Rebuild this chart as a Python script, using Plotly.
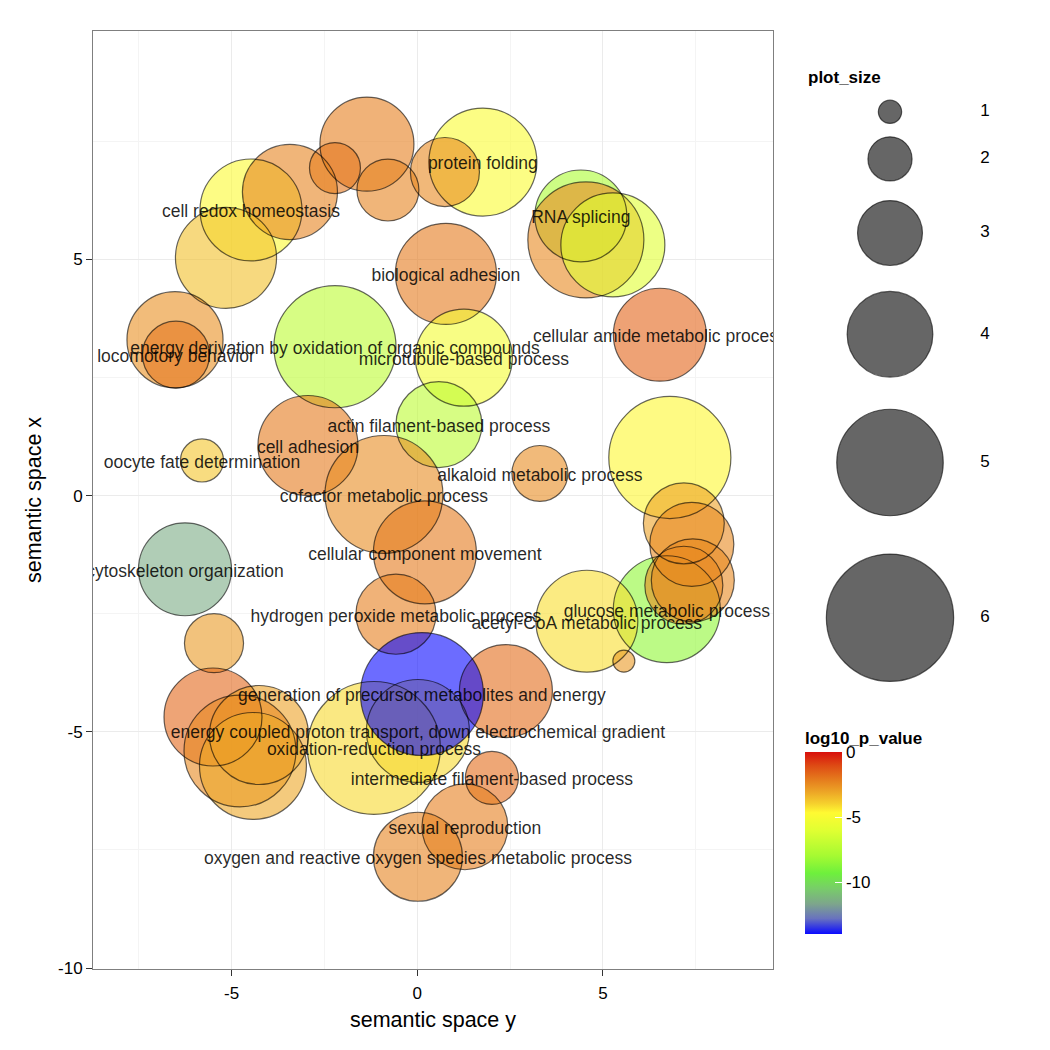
import plotly.graph_objects as go

# ---------------- data ----------------
semantic_y = [-1.354, -2.215, -0.789, -4.476, -3.427, -5.149, 1.768, 0.746, 4.406, 4.541,
              5.268, 0.773, 6.533, -6.522, -6.495, -2.215, 1.257, 0.584, -5.795, -2.942,
              -0.896, 3.303, 6.802, 6.721, 7.179, 7.394, 7.421, 7.179, 0.207, -6.253,
              -0.573, 4.568, -5.472, 5.564, 2.388, -5.499, -4.261, -4.773, -4.423, 0.019,
              -1.166, 2.011, 1.284, 0.019, 0.127]
semantic_x = [7.441, 6.934, 6.469, 6.047, 6.427, 5.033, 7.061, 6.850, 5.920, 5.413,
              5.307, 4.695, 3.406, 3.300, 2.983, 3.152, 2.920, 1.504, 0.744, 1.061,
              0.025, 0.469, 0.807, -2.404, -0.587, -1.031, -1.792, -1.897, -1.200, -1.559,
              -2.510, -2.658, -3.123, -3.503, -4.137, -4.686, -5.067, -5.405, -5.722, -4.982,
              -5.341, -5.975, -7.010, -7.644, -4.200]
plot_size = [4.40, 2.33, 2.86, 4.78, 4.45, 4.74, 5.07, 3.20, 4.30, 5.46,
             4.88, 4.74, 4.35, 4.50, 3.10, 5.75, 4.54, 4.01, 1.95, 4.69,
             5.55, 2.57, 5.75, 5.02, 3.77, 3.92, 3.87, 3.63, 4.83, 4.35,
             3.73, 4.78, 2.72, 0.94, 4.35, 4.59, 4.64, 5.26, 5.02, 4.83,
             6.27, 2.43, 4.01, 4.16, 5.79]
log10_p_value = [-2.2, -2.0, -2.3, -4.8, -2.3, -3.6, -4.9, -2.4, -7.8, -2.4,
                 -6.0, -2.1, -1.6, -2.6, -2.0, -7.2, -5.2, -7.2, -3.7, -2.1,
                 -2.5, -2.5, -4.6, -8.5, -3.0, -2.4, -2.4, -2.4, -2.1, -11.5,
                 -2.2, -4.2, -2.8, -2.8, -1.8, -1.7, -3.0, -2.4, -3.1, -4.1,
                 -4.1, -1.8, -2.2, -2.3, -14.0]
description = ["", "", "", "cell redox homeostasis", "", "", "protein folding", "", "RNA splicing", "",
               "", "biological adhesion", "cellular amide metabolic process", "", "locomotory behavior",
               "energy derivation by oxidation of organic compounds", "microtubule-based process",
               "actin filament-based process", "oocyte fate determination", "cell adhesion",
               "cofactor metabolic process", "alkaloid metabolic process", "", "glucose metabolic process", "",
               "", "", "", "cellular component movement", "cytoskeleton organization",
               "hydrogen peroxide metabolic process", "acetyl-CoA metabolic process", "", "", "",
               "", "", "", "", "energy coupled proton transport, down electrochemical gradient",
               "oxidation-reduction process", "intermediate filament-based process", "sexual reproduction",
               "oxygen and reactive oxygen species metabolic process",
               "generation of precursor metabolites and energy"]

legend_sizes = [1, 2, 3, 4, 5, 6]
color_ticks = [-10, -5, 0]
x_ticks = [-5, 0, 5]
y_ticks = [-10, -5, 0, 5]

# ---------------- scales / styling ----------------
SIZE_BASE = 2.5
SIZE_PER_UNIT = 20.8
def size_px(v):
    return SIZE_BASE + SIZE_PER_UNIT * v

P_MIN = min(log10_p_value)

# colour ramp (blue -> green -> yellow -> red) as rendered in the original
ramp = [
    (-14.0, (10, 10, 255)),
    (-12.8, (105, 115, 190)),
    (-11.7, (125, 165, 140)),
    (-10.5, (120, 205, 105)),
    (-9.33, (110, 240, 60)),
    (-8.0, (165, 250, 50)),
    (-6.0, (225, 255, 50)),
    (-4.67, (255, 250, 50)),
    (-4.0, (246, 210, 45)),
    (-3.0, (236, 162, 38)),
    (-2.0, (228, 118, 28)),
    (-1.0, (222, 72, 20)),
    (0.0, (216, 15, 12)),
]
colorscale = [[(v - P_MIN) / (0 - P_MIN), f"rgb{c}"] for v, c in ramp]

FONT = "Liberation Sans, Arial, Helvetica, sans-serif"

W, H = 1050, 1050
ML, MR, MT, MB = 93, 20, 31, 81
PW, PH = W - ML - MR, H - MT - MB
panel_right = 773
leg_left = 780
X_RANGE = [-8.73, 9.58]
Y_RANGE = [-10.02, 9.835]
px_per_y = PH / (Y_RANGE[1] - Y_RANGE[0])
label_drop = 3 / px_per_y   # text baseline tweak (3 px)

fig = go.Figure()

# filled bubbles
fig.add_trace(go.Scatter(
    x=semantic_y, y=semantic_x, mode="markers", hoverinfo="skip", showlegend=False,
    marker=dict(size=[size_px(v) for v in plot_size], color=log10_p_value,
                colorscale=colorscale, cmin=P_MIN, cmax=0, opacity=0.6,
                line=dict(width=0),
                colorbar=dict(
                    x=(805 - ML) / PW, xanchor="left", xpad=0,
                    y=(H - MB - 728) / PH, yanchor="top", ypad=0,
                    len=206, lenmode="pixels", thickness=37, thicknessmode="pixels",
                    outlinewidth=0,
                    tickmode="array", tickvals=color_ticks, ticktext=[str(v) for v in color_ticks],
                    ticks="inside", ticklen=7, tickcolor="white", tickwidth=1,
                    tickfont=dict(family=FONT, size=17, color="black"),
                    title=dict(text="<b>log10_p_value</b>", side="top",
                               font=dict(family=FONT, size=17, color="black")),
                ))))

# outlines
fig.add_trace(go.Scatter(
    x=semantic_y, y=semantic_x, mode="markers", hoverinfo="skip", showlegend=False,
    marker=dict(size=[size_px(v) for v in plot_size], color="rgba(0,0,0,0)", opacity=1,
                line=dict(width=1.2, color="rgba(0,0,0,0.6)"))))

# labels
fig.add_trace(go.Scatter(
    x=semantic_y, y=[v - label_drop for v in semantic_x], mode="text", text=description,
    textposition="middle center", hoverinfo="skip", showlegend=False,
    textfont=dict(family=FONT, size=17.5, color="rgba(0,0,0,0.85)")))

# size legend (own axes in pixel units)
leg_d = [size_px(v) for v in legend_sizes]
leg_y = []
cur = 95.0
for d in leg_d:
    h = 1.3 * d + 3.3
    leg_y.append(cur + h / 2)
    cur += h
fig.add_trace(go.Scatter(
    x=[890] * len(legend_sizes), y=leg_y, mode="markers", xaxis="x2", yaxis="y2",
    hoverinfo="skip", showlegend=False,
    marker=dict(size=leg_d, color="rgb(102,102,102)", opacity=1,
                line=dict(width=1.2, color="rgba(0,0,0,0.6)"))))
fig.add_trace(go.Scatter(
    x=[985] * len(legend_sizes), y=leg_y, mode="text", xaxis="x2", yaxis="y2",
    text=[str(v) for v in legend_sizes], textposition="middle center",
    hoverinfo="skip", showlegend=False,
    textfont=dict(family=FONT, size=17, color="black")))

axis_common = dict(
    showgrid=True, gridcolor="#ebebeb", gridwidth=1, zeroline=False,
    showline=True, mirror=True, linecolor="#7f7f7f", linewidth=1,
    ticks="outside", ticklen=6, tickcolor="#333333", tickwidth=1,
    tickfont=dict(family=FONT, size=17, color="black"),
)

fig.update_layout(
    width=W, height=H, margin=dict(l=ML, r=MR, t=MT, b=MB),
    paper_bgcolor="white", plot_bgcolor="white",
    xaxis=dict(domain=[0, (panel_right - ML) / PW], range=X_RANGE,
               tickmode="array", tickvals=x_ticks, ticktext=[str(v) for v in x_ticks],
               ticklabelstandoff=3,
               minor=dict(tickmode="array", tickvals=[-7.5, -2.5, 2.5, 7.5], showgrid=True,
                          gridcolor="#f4f4f4", ticks=""),
               title=dict(text="semantic space y", font=dict(family=FONT, size=21.5, color="black"),
                          standoff=9),
               **axis_common),
    yaxis=dict(domain=[0, 1], range=Y_RANGE,
               tickmode="array", tickvals=y_ticks, ticktext=[str(v) for v in y_ticks],
               minor=dict(tickmode="array", tickvals=[-7.5, -2.5, 2.5, 7.5], showgrid=True,
                          gridcolor="#f4f4f4", ticks=""),
               title=dict(text="semantic space x", font=dict(family=FONT, size=21.5, color="black"),
                          standoff=10),
               **axis_common),
    xaxis2=dict(domain=[(leg_left - ML) / PW, 1], range=[leg_left, W - MR], visible=False,
                anchor="y2", fixedrange=True),
    yaxis2=dict(domain=[0, 1], range=[H - MB, MT], visible=False, anchor="x2", fixedrange=True),
    annotations=[dict(text="<b>plot_size</b>", x=806, y=77, xref="x2", yref="y2",
                      xanchor="left", yanchor="middle", showarrow=False,
                      font=dict(family=FONT, size=17, color="black"))],
)

fig.write_html("out.html", config={"displayModeBar": False},
               post_script="document.body.style.margin='0px';")
